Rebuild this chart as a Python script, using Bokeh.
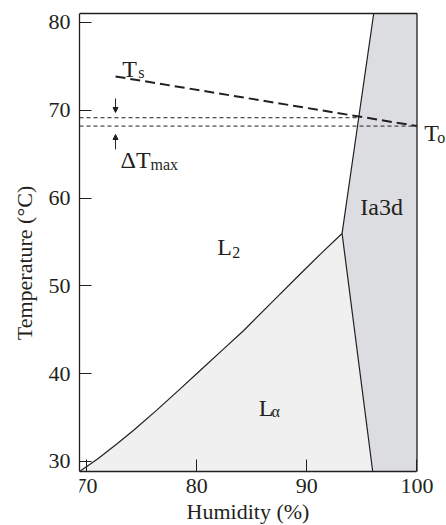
from bokeh.plotting import figure
from bokeh.models import Range1d, Label, Arrow, NormalHead, FixedTicker
from bokeh.embed import file_html
from bokeh.resources import INLINE

# ---- data ----
x_min, x_max = 69.36, 100.0
y_min, y_max = 28.86, 81.02
x_ticks = [70, 80, 90, 100]
y_ticks = [30, 40, 50, 60, 70, 80]

# L2 / L-alpha boundary curve
curve_x = [69.36, 71.0, 72.8, 74.3, 76.4, 78.4, 80.34, 82.3, 84.27, 87.0, 89.42, 91.3, 93.2]
curve_y = [28.86, 30.29, 32.05, 33.59, 35.88, 38.15, 40.39, 42.65, 44.92, 48.34, 51.38, 53.7, 55.97]
# boundary with Ia3d (top -> kink -> bottom)
ia_x = [96.07, 93.2, 95.98]
ia_y = [81.02, 55.97, 28.86]

# Ts line
ts_x = [72.63, 100.0]
ts_y = [73.85, 68.2]
# dotted reference levels
upper_dot_x = [69.36, 94.7]
upper_dot_y = [69.15, 69.15]
lower_dot_x = [69.36, 100.0]
lower_dot_y = [68.2, 68.2]
# Delta T arrows (x, y_from, y_to)
arrow_down = (72.63, 71.34, 69.75)
arrow_up = (72.63, 65.54, 67.24)

# visible window (frame reaches the canvas edges so that T_o and the x title fit)
view_x_end = 102.68
view_y = (22.71, 82.50)

FONT = "Liberation Serif"
INK = "#231f20"

p = figure(width=446, height=525, output_backend="svg", toolbar_location=None,
           x_range=Range1d(x_min, view_x_end), y_range=Range1d(*view_y),
           min_border_left=79, min_border_right=0, min_border_top=0,
           min_border_bottom=0)
p.grid.visible = False
p.background_fill_color = "white"
p.border_fill_color = "white"
p.outline_line_color = None

# regions
la_px = curve_x + [ia_x[2]]
la_py = curve_y + [y_min]
p.patch(la_px, la_py, fill_color="#f0f0f0", line_color=None)
ia_px = ia_x + [x_max, x_max]
ia_py = ia_y + [y_min, y_max]
p.patch(ia_px, ia_py, fill_color="#dcdde0", line_color=None)

p.line(curve_x, curve_y, line_color=INK, line_width=1.2)
p.line(ia_x, ia_y, line_color=INK, line_width=1.2)

p.line(ts_x, ts_y, line_color=INK, line_width=2, line_dash="10 5")
p.line(upper_dot_x, upper_dot_y, line_color=INK, line_width=1, line_dash="4 3")
p.line(lower_dot_x, lower_dot_y, line_color=INK, line_width=1, line_dash="4 3")

# top and right edges of the plotting box
p.line([x_min, x_max, x_max], [y_max, y_max, y_min], line_color=INK, line_width=1.3)

for (ax, y0, y1) in (arrow_down, arrow_up):
    p.add_layout(Arrow(end=NormalHead(size=5, fill_color=INK, line_color=INK, line_width=1),
                       x_start=ax, y_start=y0, x_end=ax, y_end=y1,
                       line_color=INK, line_width=1))

# axes
for ax in (p.xaxis[0], p.yaxis[0]):
    ax.major_tick_in = 12
    ax.major_tick_out = 0
    ax.minor_tick_in = 0
    ax.minor_tick_out = 0
    ax.axis_line_color = INK
    ax.axis_line_width = 1.3
    ax.major_tick_line_color = INK
    ax.major_label_text_font = FONT
    ax.major_label_text_font_size = "22px"
    ax.major_label_text_color = INK
    ax.axis_label_text_font = FONT
    ax.axis_label_text_font_size = "22px"
    ax.axis_label_text_font_style = "normal"
    ax.axis_label_text_color = INK
p.xaxis.ticker = FixedTicker(ticks=x_ticks)
p.yaxis.ticker = FixedTicker(ticks=y_ticks)
p.xaxis.bounds = (x_min, x_max)
p.yaxis.bounds = (y_min, y_max)
p.xaxis.fixed_location = y_min
p.xaxis.axis_label = "Humidity (%)"
p.yaxis.axis_label = "Temperature (°C)"
p.xaxis.major_label_standoff = 8
p.yaxis.major_label_standoff = 9
p.xaxis.axis_label_standoff = 2
p.yaxis.axis_label_standoff = 9

def lab(x, y, t, size, align="left"):
    p.add_layout(Label(x=x, y=y, text=t, text_font=FONT, text_font_size=size,
                       text_color=INK, text_align=align, text_baseline="alphabetic"))

BIG, SUB = "24px", "16px"
lab(73.24, 74.73, "T", BIG); lab(74.69, 74.31, "s", SUB)
lab(100.67, 67.36, "T", BIG); lab(101.85, 66.9, "o", SUB)
lab(73.09, 64.28, "ΔT", BIG); lab(75.8, 63.83, "max", SUB)
lab(81.86, 54.41, "L", BIG); lab(83.22, 53.8, "2", SUB)
lab(85.64, 36.12, "L", BIG); lab(86.79, 35.7, "α", SUB)
lab(94.86, 58.96, "Ia3d", BIG)

open("out.html", "w").write(file_html(p, INLINE))
